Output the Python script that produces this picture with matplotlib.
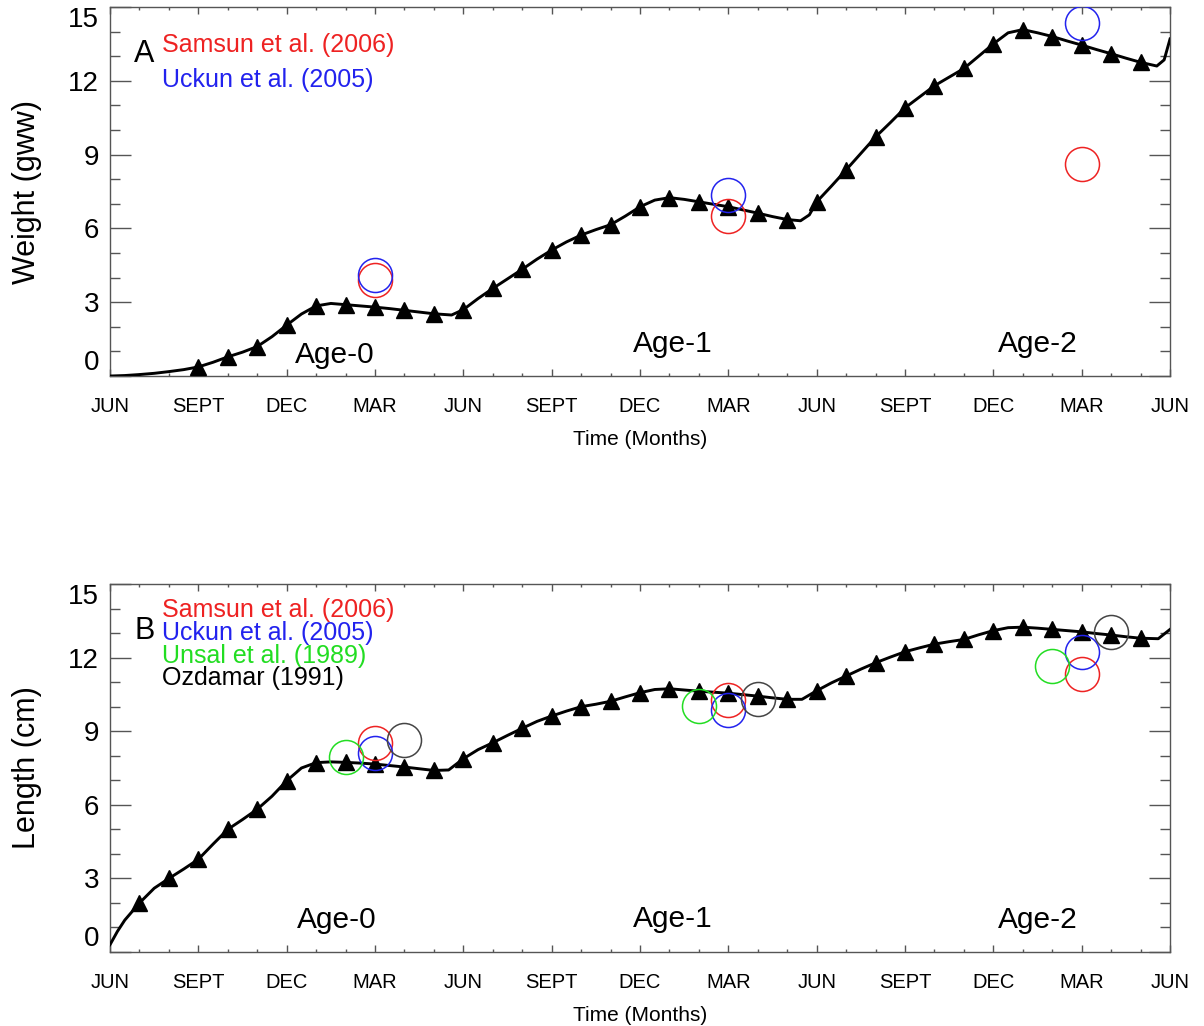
import numpy as np
import matplotlib.pyplot as plt

plt.rcParams['font.family'] = ['Liberation Sans', 'DejaVu Sans']

# month labels every 3 months, starting in June of the birth year
tick_months = np.arange(0, 37, 3)
tick_labels = ['JUN', 'SEPT', 'DEC', 'MAR'] * 3 + ['JUN']

# model output, weight (gww): continuous curve and monthly triangles
w_curve_months = [0, 0.5, 1, 1.5, 2, 2.5, 3, 3.5, 4, 4.5, 5, 5.5, 6, 6.5, 7, 7.5, 8, 8.5, 9, 9.5,
                  10, 10.5, 11, 11.6, 12, 12.5, 13, 13.5, 14, 14.5, 15, 15.5, 16, 16.5, 17, 17.5,
                  18, 18.5, 19, 19.5, 20, 20.5, 21, 21.5, 22, 22.5, 23, 23.45, 23.75, 24, 24.5,
                  25, 25.5, 26, 26.5, 27, 27.5, 28, 28.5, 29, 29.5, 30, 30.5, 31, 31.5, 32,
                  32.5, 33, 33.5, 34, 34.5, 35, 35.55, 35.8, 36]
w_curve = [0.0, 0.02, 0.06, 0.11, 0.18, 0.26, 0.37, 0.56, 0.78, 0.97, 1.2, 1.6, 2.07, 2.52, 2.85,
           2.95, 2.9, 2.85, 2.8, 2.74, 2.67, 2.6, 2.53, 2.48, 2.7, 3.15, 3.56, 3.95, 4.34, 4.75,
           5.12, 5.45, 5.73, 5.95, 6.15, 6.5, 6.88, 7.15, 7.25, 7.18, 7.08, 6.98, 6.88, 6.75,
           6.62, 6.48, 6.36, 6.31, 6.55, 7.08, 7.72, 8.38, 9.05, 9.72, 10.3, 10.9, 11.35, 11.8,
           12.15, 12.5, 13.0, 13.5, 13.95, 14.08, 13.95, 13.8, 13.62, 13.45, 13.27, 13.1, 12.92,
           12.75, 12.6, 12.85, 13.7]
w_tri_months = np.arange(3, 36)
w_tri = [0.37, 0.78, 1.2, 2.07, 2.85, 2.88, 2.8, 2.67, 2.53, 2.7, 3.56, 4.34, 5.12, 5.73, 6.15,
         6.88, 7.25, 7.08, 6.88, 6.62, 6.36, 7.08, 8.38, 9.72, 10.9, 11.8, 12.5, 13.5, 14.08,
         13.8, 13.45, 13.1, 12.75]

# model output, length (cm)
l_curve_months = [0, 0.25, 0.5, 1, 1.5, 2, 2.5, 3, 3.5, 4, 4.5, 5, 5.5, 6, 6.5, 7, 7.5, 8, 8.5, 9,
                  9.5, 10, 10.5, 11, 11.5, 12, 12.5, 13, 13.5, 14, 14.5, 15, 15.5, 16, 16.5, 17,
                  17.5, 18, 18.5, 19, 19.5, 20, 20.5, 21, 21.5, 22, 22.5, 23, 23.5, 24, 24.5, 25,
                  25.5, 26, 26.5, 27, 27.5, 28, 28.5, 29, 29.5, 30, 30.5, 31, 31.5, 32, 32.5, 33,
                  33.5, 34, 34.5, 35, 35.6, 36]
l_curve = [0.3, 0.84, 1.3, 2.0, 2.6, 3.0, 3.38, 3.78, 4.4, 5.0, 5.4, 5.82, 6.35, 6.98, 7.5, 7.72,
           7.75, 7.73, 7.7, 7.66, 7.6, 7.54, 7.47, 7.4, 7.42, 7.88, 8.25, 8.53, 8.83, 9.12, 9.4,
           9.62, 9.82, 10.0, 10.1, 10.22, 10.4, 10.57, 10.7, 10.73, 10.68, 10.63, 10.59, 10.55,
           10.49, 10.43, 10.36, 10.3, 10.3, 10.65, 10.97, 11.25, 11.53, 11.79, 12.02, 12.24, 12.4,
           12.55, 12.65, 12.74, 12.93, 13.1, 13.22, 13.24, 13.2, 13.15, 13.1, 13.05, 12.98, 12.92,
           12.85, 12.79, 12.77, 13.15]
l_tri_months = np.arange(1, 36)
l_tri = [2.0, 3.0, 3.78, 5.0, 5.82, 6.98, 7.72, 7.73, 7.66, 7.54, 7.4, 7.88, 8.53, 9.12, 9.62,
         10.0, 10.22, 10.57, 10.73, 10.63, 10.55, 10.43, 10.3, 10.65, 11.25, 11.79, 12.24, 12.55,
         12.74, 13.1, 13.24, 13.15, 13.05, 12.92, 12.79]

# field observations (month, value)
w_samsun_m, w_samsun = [9, 21, 33], [3.9, 6.49, 8.62]
w_uckun_m, w_uckun = [9, 21, 33], [4.1, 7.36, 14.35]

l_samsun_m, l_samsun = [9, 21, 33], [8.53, 10.27, 11.33]
l_uckun_m, l_uckun = [9, 21, 33], [8.13, 9.86, 12.24]
l_unsal_m, l_unsal = [8, 20, 32], [7.94, 10.03, 11.67]
l_ozdamar_m, l_ozdamar = [10, 22, 34], [8.64, 10.3, 13.05]

fig = plt.figure(figsize=(12.04, 10.26), dpi=100)
ax1 = fig.add_axes([0.0914, 0.6335, 0.8804, 0.3597])
ax2 = fig.add_axes([0.0914, 0.0721, 0.8804, 0.3587])

circ = dict(marker='o', linestyle='none', markersize=24.5, markerfacecolor='none',
            markeredgewidth=1.1)

# panel A: weight
ax1.plot(w_curve_months, w_curve, color='black', linewidth=2.1, zorder=3)
ax1.plot(w_tri_months, w_tri, linestyle='none', marker='^', markersize=11.5, color='black', zorder=4)
ax1.plot(w_samsun_m, w_samsun, markeredgecolor='#ee2222', zorder=5, **circ)
ax1.plot(w_uckun_m, w_uckun, markeredgecolor='#2222ee', zorder=5, **circ)

# panel B: length
ax2.plot(l_curve_months, l_curve, color='black', linewidth=2.1, zorder=3)
ax2.plot(l_tri_months, l_tri, linestyle='none', marker='^', markersize=11.5, color='black', zorder=4)
ax2.plot(l_samsun_m, l_samsun, markeredgecolor='#ee2222', zorder=5, **circ)
ax2.plot(l_uckun_m, l_uckun, markeredgecolor='#2222ee', zorder=5, **circ)
ax2.plot(l_unsal_m, l_unsal, markeredgecolor='#22dd22', zorder=5, **circ)
ax2.plot(l_ozdamar_m, l_ozdamar, markeredgecolor='#444444', zorder=5, **circ)

ax1.set_ylabel('Weight (gww)', fontsize=22)
ax2.set_ylabel('Length (cm)', fontsize=22)

for ax in (ax1, ax2):
    ax.set_xlim(0, 36)
    ax.set_ylim(0, 15)
    ax.set_xticks(tick_months)
    ax.set_xticklabels(tick_labels)
    ax.set_xticks(np.arange(0, 37, 1), minor=True)
    ax.set_yticks(np.arange(0, 16, 3))
    ax.set_yticks(np.arange(0, 16, 1), minor=True)
    ax.tick_params(axis='both', which='both', direction='in', top=True, right=True,
                   color='#555555', width=1.0)
    ax.tick_params(axis='x', which='major', length=5, pad=15, labelsize=14.5)
    ax.tick_params(axis='x', which='minor', length=2.5)
    ax.tick_params(axis='y', which='major', length=15, pad=8, labelsize=20)
    ax.tick_params(axis='y', which='minor', length=7.5)
    for s in ax.spines.values():
        s.set_color('#555555')
        s.set_linewidth(1.0)
    ax.set_xlabel('Time (Months)', fontsize=15, labelpad=10)
    ax.yaxis.set_label_coords(-0.064, 0.5)
    ylabels = ax.yaxis.get_majorticklabels()
    ylabels[0].set_verticalalignment('bottom')
    ylabels[-1].set_verticalalignment('top')

# age classes
ax1.text(7.64, 0.85, 'Age-0', fontsize=21.5, ha='center', va='center')
ax1.text(19.1, 1.3, 'Age-1', fontsize=21.5, ha='center', va='center')
ax1.text(31.5, 1.3, 'Age-2', fontsize=21.5, ha='center', va='center')
ax2.text(7.7, 1.3, 'Age-0', fontsize=21.5, ha='center', va='center')
ax2.text(19.1, 1.34, 'Age-1', fontsize=21.5, ha='center', va='center')
ax2.text(31.5, 1.3, 'Age-2', fontsize=21.5, ha='center', va='center')

# panel letters and source labels
ax1.text(1.15, 13.09, 'A', fontsize=22, ha='center', va='center')
ax1.text(1.77, 13.46, 'Samsun et al. (2006)', fontsize=18, color='#ee2222', va='center')
ax1.text(1.77, 12.03, 'Uckun et al. (2005)', fontsize=18, color='#2222ee', va='center')

ax2.text(1.19, 13.07, 'B', fontsize=22, ha='center', va='center')
ax2.text(1.77, 13.93, 'Samsun et al. (2006)', fontsize=18, color='#ee2222', va='center')
ax2.text(1.77, 12.99, 'Uckun et al. (2005)', fontsize=18, color='#2222ee', va='center')
ax2.text(1.77, 12.05, 'Unsal et al. (1989)', fontsize=18, color='#22dd22', va='center')
ax2.text(1.77, 11.16, 'Ozdamar (1991)', fontsize=18, color='black', va='center')

fig.savefig('out.png', dpi=100)
